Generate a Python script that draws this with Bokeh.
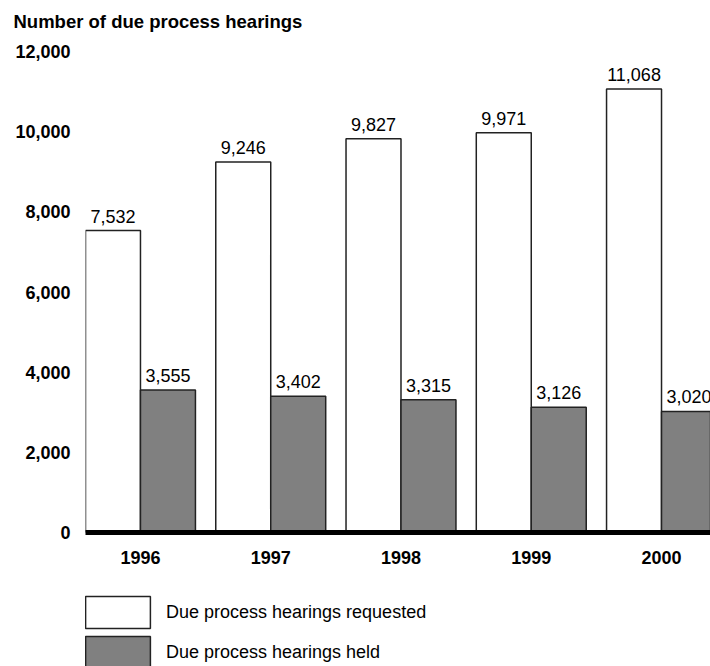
from bokeh.plotting import figure
from bokeh.layouts import column
from bokeh.models import (Range1d, FixedTicker, NumeralTickFormatter, Legend,
                          LegendItem, ColumnDataSource)
from bokeh.transform import dodge
from bokeh.core.properties import value
from bokeh.embed import file_html
from bokeh.resources import INLINE

years = [1996, 1997, 1998, 1999, 2000]
requested = [7532, 9246, 9827, 9971, 11068]
held = [3555, 3402, 3315, 3126, 3020]
y_ticks = [0, 2000, 4000, 6000, 8000, 10000, 12000]
title_text = "Number of due process hearings"
series_labels = ["Due process hearings requested", "Due process hearings held"]

FONT = "Liberation Sans"
WHITE_FILL = "white"
GRAY_FILL = "#808080"
EDGE = "#222222"

src = ColumnDataSource(dict(
    year=years,
    requested=requested,
    held=held,
    req_lbl=[f"{v:,}" for v in requested],
    held_lbl=[f"{v:,}" for v in held],
))

p = figure(width=710, height=585, output_backend="svg", toolbar_location=None,
           x_range=Range1d(1995.578, 2000.376), y_range=Range1d(0, 12475),
           min_border_left=85, min_border_right=0, min_border_top=32,
           min_border_bottom=53)

p.title.text = title_text
p.title.text_font = FONT
p.title.text_font_size = "18.5px"
p.title.text_font_style = "bold"
p.title.text_color = "black"
p.title.align = "left"
p.title.offset = -72
p.title.standoff = 0
p.title.vertical_align = "middle"

p.outline_line_color = None
p.xgrid.visible = False
p.ygrid.visible = False
p.background_fill_color = "white"
p.border_fill_color = "white"

bw = 0.422
half = bw / 2
r1 = p.vbar(x=dodge("year", -half, range=p.x_range), top="requested", width=bw,
            source=src, fill_color=WHITE_FILL, line_color=EDGE, line_width=1.5)
r2 = p.vbar(x=dodge("year", half, range=p.x_range), top="held", width=bw,
            source=src, fill_color=GRAY_FILL, line_color=EDGE, line_width=1.5)

p.text(x=dodge("year", -half, range=p.x_range), y="requested", text="req_lbl",
       source=src, text_align="center", text_baseline="bottom", y_offset=-8,
       text_font=value(FONT), text_font_size="18px", text_color="black")
p.text(x=dodge("year", half, range=p.x_range), y="held", text="held_lbl",
       source=src, text_align="center", text_baseline="bottom", y_offset=-8,
       text_font=value(FONT), text_font_size="18px", text_color="black")

ya = p.yaxis[0]
ya.ticker = FixedTicker(ticks=y_ticks)
ya.formatter = NumeralTickFormatter(format="0,0")
ya.major_label_text_font = FONT
ya.major_label_text_font_size = "18px"
ya.major_label_text_font_style = "bold"
ya.major_label_text_color = "black"
ya.axis_line_color = None
ya.major_tick_in = 0
ya.major_tick_out = 0
ya.minor_tick_line_color = None
ya.major_tick_line_color = None
ya.major_label_standoff = 15

xa = p.xaxis[0]
xa.ticker = FixedTicker(ticks=years)
xa.formatter = NumeralTickFormatter(format="0")
xa.major_label_text_font = FONT
xa.major_label_text_font_size = "18px"
xa.major_label_text_font_style = "bold"
xa.major_label_text_color = "black"
xa.axis_line_color = "black"
xa.axis_line_width = 5
xa.major_tick_in = 0
xa.major_tick_out = 0
xa.major_tick_line_color = None
xa.minor_tick_line_color = None
xa.major_label_standoff = 18

# Legend panel: a small figure below the chart (its frame aligns with the chart's).
# Its renderers are hidden; they only supply the legend swatches.
lf = figure(width=710, height=81, output_backend="svg", toolbar_location=None,
            x_axis_type=None, y_axis_type=None,
            x_range=Range1d(1995.5, 2000.5), y_range=Range1d(-24000, -12000),
            min_border=0, min_border_left=85, min_border_right=0,
            min_border_top=0, min_border_bottom=0)
lf.outline_line_color = None
lf.xgrid.visible = False
lf.ygrid.visible = False
lf.background_fill_color = "white"
lf.border_fill_color = "white"
lr1 = lf.vbar(x="year", top="requested", width=0.1, source=src,
              fill_color=WHITE_FILL, line_color=EDGE, line_width=1.5)
lr2 = lf.vbar(x="year", top="held", width=0.1, source=src,
              fill_color=GRAY_FILL, line_color=EDGE, line_width=1.5)
lr1.visible = False
lr2.visible = False

legend = Legend(
    items=[LegendItem(label=series_labels[0], renderers=[lr1]),
           LegendItem(label=series_labels[1], renderers=[lr2])],
    location=(-8, -6), orientation="vertical",
    glyph_width=81, glyph_height=40, spacing=0, label_standoff=8,
    label_text_font=FONT, label_text_font_size="18px", label_text_color="black",
    padding=0, margin=0, border_line_color=None, background_fill_alpha=0,
    inactive_fill_alpha=0,
)
lf.add_layout(legend, "center")

layout = column(p, lf, spacing=0)
open("out.html", "w").write(file_html(layout, INLINE))
